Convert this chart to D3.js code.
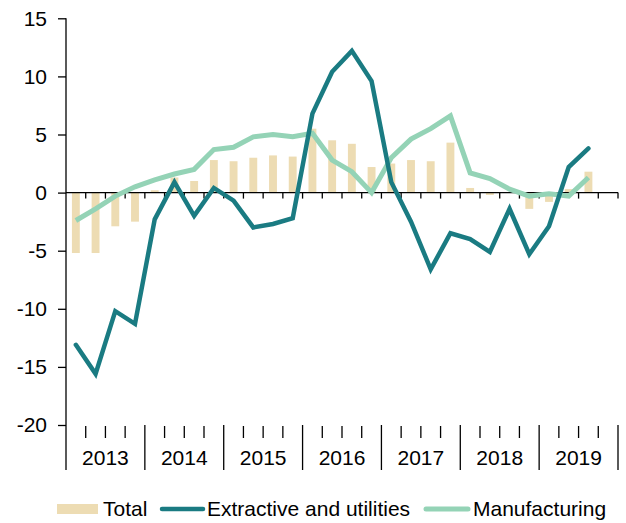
<!DOCTYPE html>
<html>
<head>
<meta charset="utf-8">
<script src="https://cdn.jsdelivr.net/npm/d3@7"></script>
<style>
    body { margin: 0; background: #fff; }
    text { font-family: "Liberation Sans", Arial, sans-serif; fill: #000; }
</style>
</head>
<body>
<div id="chart"></div>
<script>
// quarters 2013Q1 .. 2019Q4 (last quarter has no data yet)
let years = ["2013", "2014", "2015", "2016", "2017", "2018", "2019"];
let quarters = [];
years.forEach(y => { for (let q = 1; q <= 4; q++) quarters.push(y + "Q" + q); });

let total = [-5.2, -5.2, -2.9, -2.5, 0.2, 1.3, 1.0, 2.8, 2.7, 3.0, 3.2, 3.1, 5.5, 4.5, 4.2, 2.2,
             2.5, 2.8, 2.7, 4.3, 0.4, -0.2, 0.0, -1.4, -0.8, 0.3, 1.8];
let extractive = [-13.1, -15.6, -10.2, -11.3, -2.3, 0.9, -2.0, 0.4, -0.7, -3.0, -2.7, -2.2, 6.8, 10.4, 12.2, 9.6,
                  0.9, -2.5, -6.6, -3.5, -4.0, -5.1, -1.4, -5.3, -2.9, 2.2, 3.8];
let manufacturing = [-2.4, -1.4, -0.3, 0.5, 1.1, 1.6, 2.0, 3.7, 3.9, 4.8, 5.0, 4.8, 5.1, 2.8, 1.8, 0.0,
                     3.0, 4.6, 5.5, 6.6, 1.7, 1.2, 0.3, -0.3, -0.1, -0.3, 1.3];
let yTicks = [-20, -15, -10, -5, 0, 5, 10, 15];

let seriesNames = ["Total", "Extractive and utilities", "Manufacturing"];
let colors = {bar: "#eddcb3", extractive: "#1a7b82", manufacturing: "#94d3b6"};

class GrowthChart {
    constructor() {
        this.width = 626;
        this.height = 523;
        this.svg = d3.select("#chart").append("svg")
            .attr("width", this.width)
            .attr("height", this.height);

        this.x = d3.scaleBand().domain(quarters).range([66, 618]);
        this.y = d3.scaleLinear().domain([-20, 15]).range([425, 18.3]);
    }

    draw() {
        let svg = this.svg, x = this.x, y = this.y;
        let mid = d => x(d) + x.bandwidth() / 2;

        // bars for total
        let barW = x.bandwidth() * 0.4;
        svg.append("g").selectAll("rect")
            .data(total)
            .enter().append("rect")
            .attr("x", (d, i) => mid(quarters[i]) - barW / 2)
            .attr("width", barW)
            .attr("y", d => y(Math.max(0, d)))
            .attr("height", d => Math.abs(y(d) - y(0)))
            .attr("fill", colors.bar);

        // y axis (plain hyphen for negatives, like the original)
        let yAxis = d3.axisLeft(y).tickValues(yTicks).tickSize(8).tickPadding(11)
            .tickFormat(d => String(d));
        let ga = svg.append("g").attr("transform", "translate(66,0)").call(yAxis);
        ga.select(".domain").remove();
        ga.selectAll("line").attr("stroke", "#000").attr("stroke-width", 1.3);
        ga.selectAll("text").style("font-size", "21px")
            .style("font-family", "'Liberation Sans', Arial, sans-serif");
        svg.append("line")
            .attr("x1", 66).attr("x2", 66)
            .attr("y1", y(15)).attr("y2", 470)
            .attr("stroke", "#000").attr("stroke-width", 1.3);

        // zero line with quarter ticks
        svg.append("line")
            .attr("x1", 66).attr("x2", 618)
            .attr("y1", y(0)).attr("y2", y(0))
            .attr("stroke", "#000").attr("stroke-width", 1.3);
        let bounds = quarters.map(q => x(q) + x.bandwidth());
        svg.append("g").selectAll("line")
            .data(bounds)
            .enter().append("line")
            .attr("x1", d => d).attr("x2", d => d)
            .attr("y1", y(0)).attr("y2", y(0) + 6)
            .attr("stroke", "#000").attr("stroke-width", 1.3);

        // bottom category axis: quarter ticks and year separators
        svg.append("g").selectAll("line")
            .data(bounds)
            .enter().append("line")
            .attr("x1", d => d).attr("x2", d => d)
            .attr("y1", (d, i) => (i + 1) % 4 == 0 ? y(-20) : y(-20) + 1)
            .attr("y2", (d, i) => (i + 1) % 4 == 0 ? 470 : 438)
            .attr("stroke", "#000").attr("stroke-width", 1.3);

        svg.append("g").selectAll("text")
            .data(years)
            .enter().append("text")
            .attr("x", (d, i) => (x(d + "Q1") + x(d + "Q4") + x.bandwidth()) / 2)
            .attr("y", 465)
            .attr("text-anchor", "middle")
            .style("font-size", "21px")
            .text(d => d);

        // lines
        let line = d3.line()
            .x((d, i) => mid(quarters[i]))
            .y(d => y(d));
        svg.append("path").datum(manufacturing)
            .attr("d", line)
            .attr("fill", "none")
            .attr("stroke", colors.manufacturing)
            .attr("stroke-width", 5);
        svg.append("path").datum(extractive)
            .attr("d", line)
            .attr("fill", "none")
            .attr("stroke", colors.extractive)
            .attr("stroke-width", 4.5)
            .attr("stroke-linecap", "round");

        // legend
        let lg = svg.append("g");
        lg.append("rect").attr("x", 57).attr("y", 504).attr("width", 41).attr("height", 10)
            .attr("fill", colors.bar);
        lg.append("text").attr("x", 103).attr("y", 516).style("font-size", "21px").text(seriesNames[0]);
        lg.append("line").attr("x1", 162).attr("x2", 203).attr("y1", 509).attr("y2", 509)
            .attr("stroke", colors.extractive).attr("stroke-width", 4.5).attr("stroke-linecap", "round");
        lg.append("text").attr("x", 207).attr("y", 516).style("font-size", "21px").text(seriesNames[1]);
        lg.append("line").attr("x1", 426).attr("x2", 468).attr("y1", 509).attr("y2", 509)
            .attr("stroke", colors.manufacturing).attr("stroke-width", 5).attr("stroke-linecap", "round");
        lg.append("text").attr("x", 473).attr("y", 516).style("font-size", "21px").text(seriesNames[2]);
    }
}

let chart = new GrowthChart();
chart.draw();
</script>
</body>
</html>
